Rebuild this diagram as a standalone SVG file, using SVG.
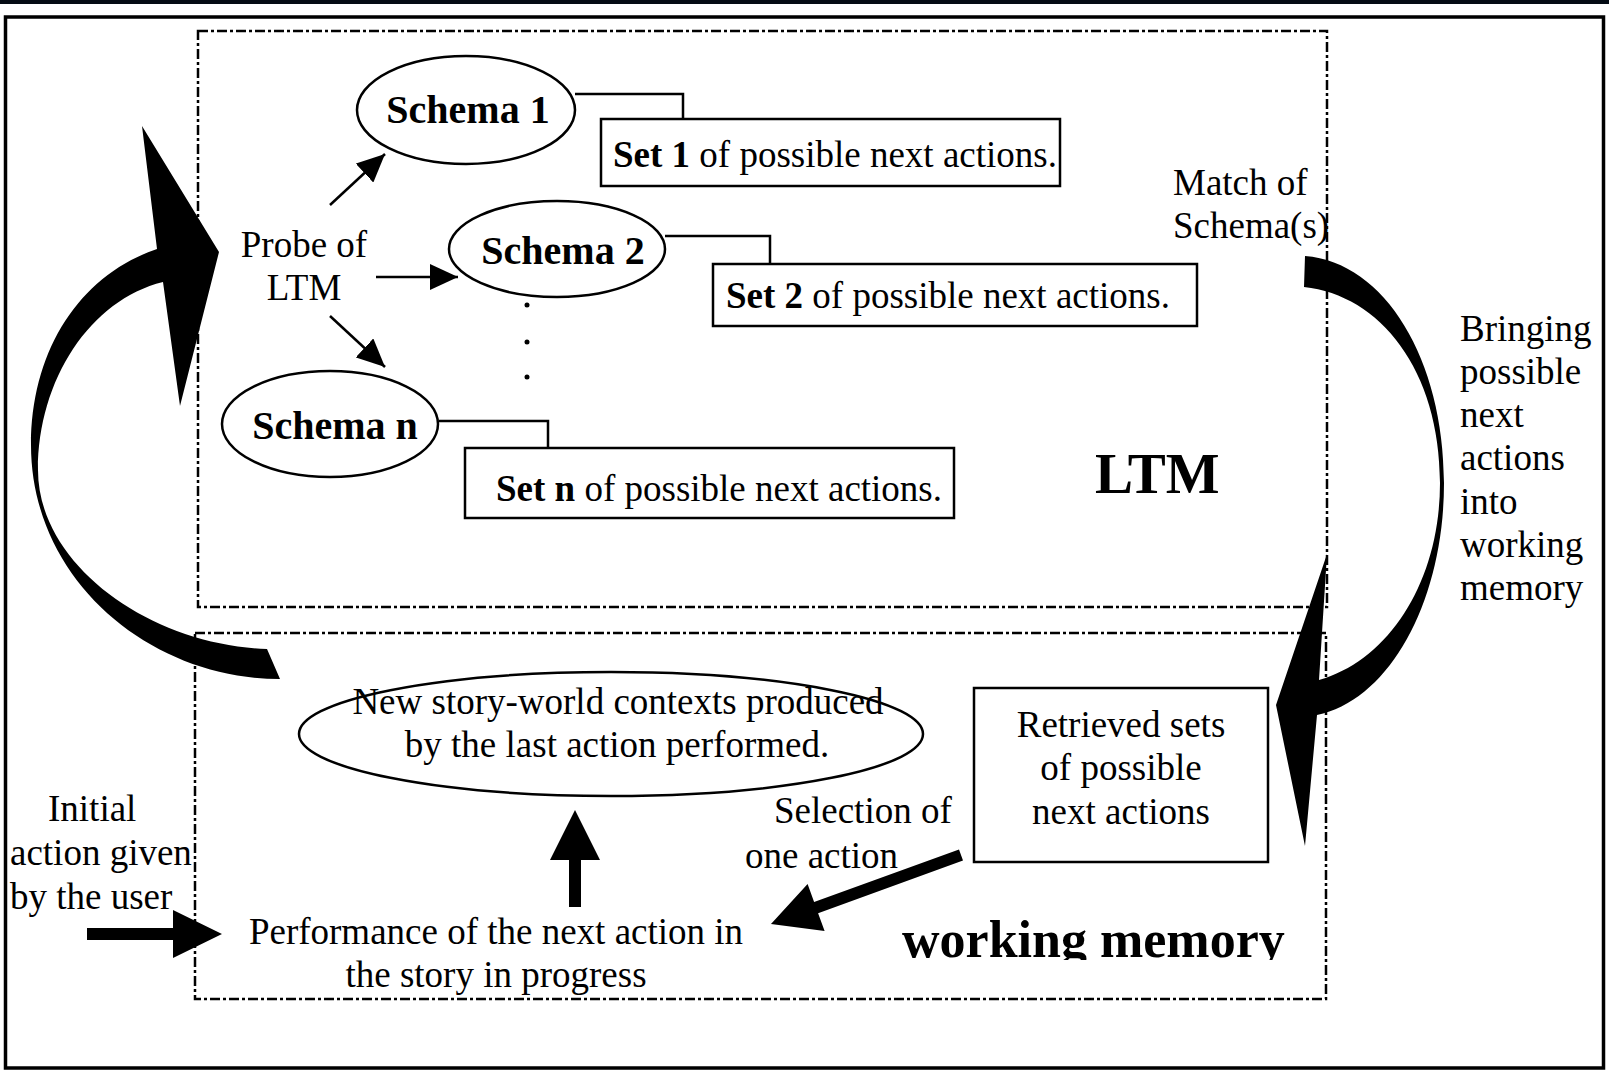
<svg xmlns="http://www.w3.org/2000/svg" width="1609" height="1074" viewBox="0 0 1609 1074">
<style>
text{font-family:"Liberation Serif","Times New Roman",serif;fill:#000}
.t{font-size:37px}
.b{font-weight:bold}
.sch{font-size:40px;font-weight:bold}
.c{text-anchor:middle}
.node{fill:#fff;stroke:#000;stroke-width:2.5}
.dash{fill:none;stroke:#000;stroke-width:2.5;stroke-dasharray:10 3 3 3}
.ln{fill:none;stroke:#000;stroke-width:2.5}
.fillb{fill:#000;stroke:none}
</style>
<defs>
<marker id="ah" markerUnits="userSpaceOnUse" markerWidth="30" markerHeight="26" refX="28" refY="13" orient="auto">
<path d="M0,0 L28,13 L0,26 z" fill="#000"/>
</marker>
<clipPath id="wmclip"><rect x="880" y="900" width="430" height="60"/></clipPath>
</defs>
<rect x="0" y="0" width="1609" height="1074" fill="#fff"/>
<rect x="0" y="0" width="1609" height="4" fill="#040b14"/>
<rect x="5.5" y="17" width="1598" height="1051" fill="none" stroke="#000" stroke-width="3.5"/>

<g id="ltm-box">
<rect class="dash" x="198" y="31" width="1129" height="576"/>
<text class="b" x="1095" y="493" style="font-size:57px">LTM</text>
</g>
<g id="wm-box">
<rect class="dash" x="195" y="633" width="1131" height="366"/>
<text class="b" x="902" y="957" style="font-size:52px" clip-path="url(#wmclip)">working memory</text>
</g>

<g id="connectors">
<line class="ln" x1="330" y1="205" x2="385" y2="154" marker-end="url(#ah)"/>
<line class="ln" x1="376" y1="277" x2="458" y2="277" marker-end="url(#ah)"/>
<line class="ln" x1="330" y1="316" x2="385" y2="367" marker-end="url(#ah)"/>
<polyline class="ln" points="575,94 683,94 683,119"/>
<polyline class="ln" points="665,236 770,236 770,264"/>
<polyline class="ln" points="439,421 548,421 548,448"/>
<circle cx="527" cy="305" r="2.5" fill="#000"/>
<circle cx="527" cy="342" r="2.5" fill="#000"/>
<circle cx="527" cy="377" r="2.5" fill="#000"/>
<path class="fillb" d="M157,249 C80,275 31,350 31,445 C31,580 150,679 280,679 L267,649 C150,645 38,565 38,470 C38,380 90,300 163,282 L180,406 L219,252 L142,126 Z"/>
<path class="fillb" d="M1305,256 C1385,262 1444,360 1444,483 C1444,600 1390,700 1317,715 L1305,846 L1276,705 L1327,554 L1319,680 C1390,660 1440,580 1440,483 C1440,370 1380,295 1304,287 Z"/>
<polygon class="fillb" points="959,849.4 814.1,902 807.6,884.1 771,924 824.6,931.1 818.1,913.2 963,860.6"/>
<polygon class="fillb" points="569,907 569,860 550,860 575,810 600,860 581,860 581,907"/>
<polygon class="fillb" points="87,928 173,928 173,910 222,934 173,958 173,940 87,940"/>
</g>

<g id="probe">
<text class="t c" x="304" y="257">Probe of</text>
<text class="t c" x="304" y="300">LTM</text>
</g>
<g id="schema1">
<ellipse class="node" cx="466" cy="110" rx="109" ry="54"/>
<text class="sch c" x="468" y="123">Schema 1</text>
</g>
<g id="schema2">
<ellipse class="node" cx="557" cy="249" rx="108" ry="48"/>
<text class="sch c" x="563" y="264">Schema 2</text>
</g>
<g id="scheman">
<ellipse class="node" cx="330" cy="424" rx="108" ry="53"/>
<text class="sch c" x="335" y="439">Schema n</text>
</g>
<g id="set1">
<rect class="node" x="601" y="119" width="459" height="67"/>
<text class="t" x="613" y="167"><tspan class="b">Set 1</tspan> of possible next actions.</text>
</g>
<g id="set2">
<rect class="node" x="713" y="264" width="484" height="62"/>
<text class="t" x="726" y="308"><tspan class="b">Set 2</tspan> of possible next actions.</text>
</g>
<g id="setn">
<rect class="node" x="465" y="448" width="489" height="70"/>
<text class="t" x="496" y="501"><tspan class="b">Set n</tspan> of possible next actions.</text>
</g>
<g id="match">
<text class="t" x="1173" y="195">Match of</text>
<text class="t" x="1173" y="238">Schema(s)</text>
</g>
<g id="bringing">
<text class="t" x="1460" y="341">Bringing</text>
<text class="t" x="1460" y="384">possible</text>
<text class="t" x="1460" y="427">next</text>
<text class="t" x="1460" y="470">actions</text>
<text class="t" x="1460" y="514">into</text>
<text class="t" x="1460" y="557">working</text>
<text class="t" x="1460" y="600">memory</text>
</g>
<g id="contexts">
<ellipse class="node" cx="611" cy="734" rx="312" ry="62"/>
<text class="t c" x="618" y="714">New story-world contexts produced</text>
<text class="t c" x="617" y="757">by the last action performed.</text>
</g>
<g id="retrieved">
<rect class="node" x="974" y="688" width="294" height="174"/>
<text class="t c" x="1121" y="737">Retrieved sets</text>
<text class="t c" x="1121" y="780">of possible</text>
<text class="t c" x="1121" y="824">next actions</text>
</g>
<g id="selection">
<text class="t" x="774" y="823">Selection of</text>
<text class="t" x="745" y="868">one action</text>
</g>
<g id="performance">
<text class="t c" x="496" y="944">Performance of the next action in</text>
<text class="t c" x="496" y="987">the story in progress</text>
</g>
<g id="initial">
<text class="t" x="48" y="821">Initial</text>
<text class="t" x="10" y="865">action given</text>
<text class="t" x="10" y="909">by the user</text>
</g>
</svg>
